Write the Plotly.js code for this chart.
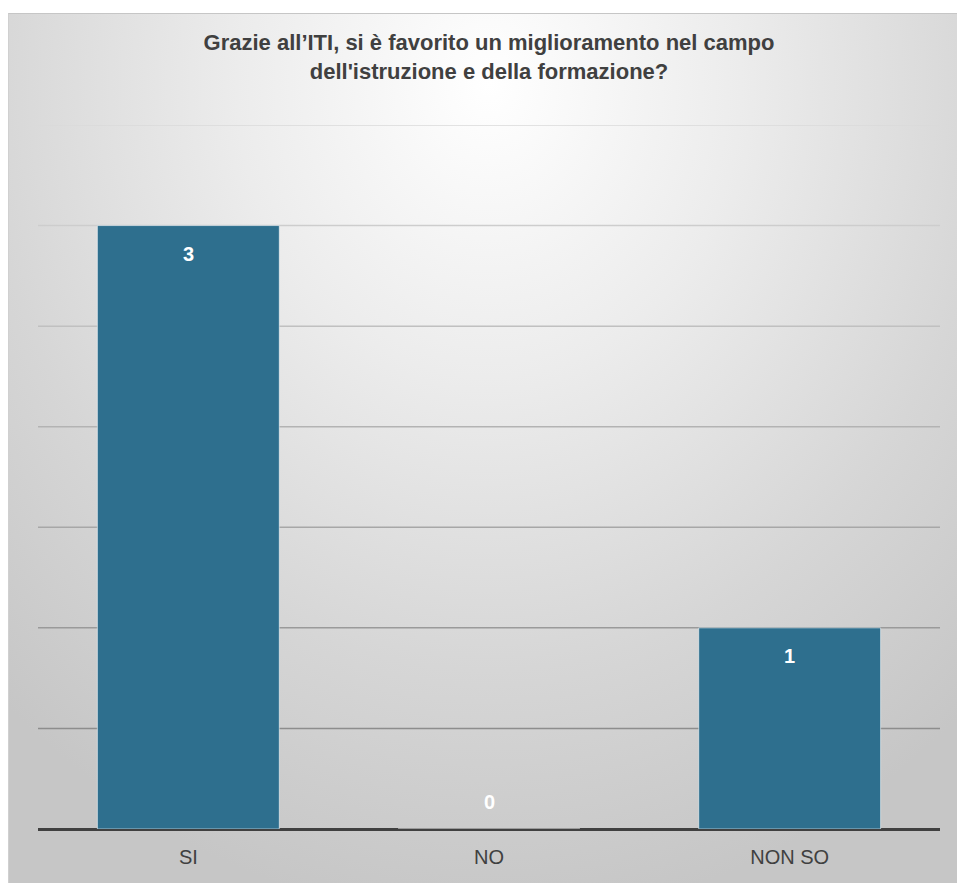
<!DOCTYPE html>
<html>
<head>
<meta charset="utf-8">
<script src="https://cdn.plot.ly/plotly-3.0.1.min.js"></script>
<style>
  html, body { margin: 0; padding: 0; background: #ffffff; }
  #wrap { position: relative; width: 957px; height: 883px; overflow: hidden; }
  #bg { position: absolute; left: 8px; top: 13px; width: 960px; height: 880px;
        border-top: 1px solid #c6c6c6; border-left: 1px solid #d0d0d0;
        background: radial-gradient(ellipse 75% 95% at 50% 8%, #ffffff 0%, #ececec 35%, #d6d6d6 70%, #c6c6c6 100%); }
  #chart { position: absolute; left: 0; top: 0; width: 957px; height: 883px; }
</style>
</head>
<body>
<div id="wrap"><div id="bg"></div><div id="chart"></div></div>
<script>
const categories = ["SI", "NO", "NON SO"];
const values = [3, 0, 1];
const gridValues = [0.5, 1, 1.5, 2, 2.5, 3, 3.5];
const titleText = "Grazie all’ITI, si è favorito un miglioramento nel campo<br>dell'istruzione e della formazione?";

function gridColor(v) {
  const t = v / 3.5;
  const top = 218, bottom = 128;
  const c = Math.round(bottom + (top - bottom) * t);
  return "rgb(" + c + "," + c + "," + c + ")";
}

const shapes = gridValues.map(v => ({
  type: "line", xref: "paper", yref: "y", x0: 0, x1: 1, y0: v, y1: v,
  line: { color: gridColor(v), width: 1.5 }, layer: "below"
}));

const annotations = categories.map((c, i) => ({
  x: c, y: values[i], xref: "x", yref: "y",
  text: String(values[i]), showarrow: false,
  yanchor: values[i] > 0 ? "top" : "bottom",
  yshift: values[i] > 0 ? -15 : 14,
  font: { family: "Liberation Sans, Arial, sans-serif", size: 20, color: "#ffffff", weight: "bold" }
}));

const trace = {
  type: "bar", x: categories, y: values,
  marker: { color: "#2e6f8e", line: { color: "rgba(255,255,255,0.55)", width: 1 } },
  hoverinfo: "none"
};

const layout = {
  width: 957, height: 883,
  margin: { l: 38, r: 17, t: 125, b: 54 },
  paper_bgcolor: "rgba(0,0,0,0)", plot_bgcolor: "rgba(0,0,0,0)",
  bargap: 0.395,
  title: {
    text: "<b>" + titleText + "</b>",
    x: 0.5, xref: "paper", yref: "container", y: 0.943, yanchor: "top",
    font: { family: "Liberation Sans, Arial, sans-serif", size: 22, color: "#404040" }
  },
  xaxis: {
    showgrid: false, zeroline: false, showline: false, ticks: "",
    tickfont: { family: "Liberation Sans, Arial, sans-serif", size: 20, color: "#404040" },
    ticklabelstandoff: 14
  },
  yaxis: {
    range: [0, 3.5], showgrid: false, zeroline: true, zerolinecolor: "#404040", zerolinewidth: 3,
    showticklabels: false, ticks: "", showline: false
  },
  shapes: shapes,
  annotations: annotations,
  showlegend: false
};

Plotly.newPlot("chart", [trace], layout, { displayModeBar: false, staticPlot: true });
</script>
</body>
</html>
